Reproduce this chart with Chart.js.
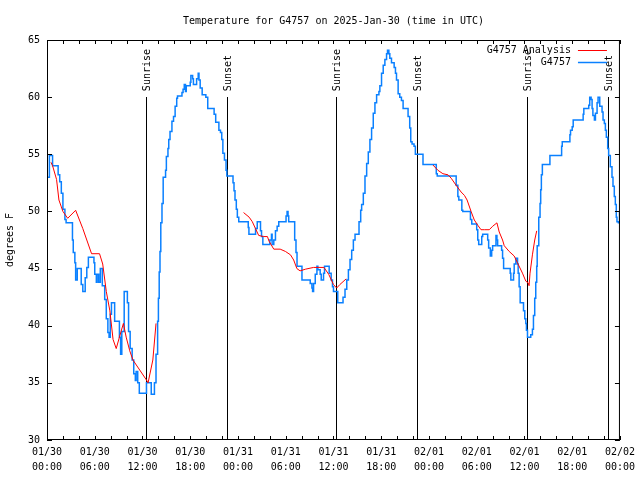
<!DOCTYPE html>
<html>
<head>
<meta charset="utf-8">
<title>Temperature for G4757</title>
<script src="https://cdn.jsdelivr.net/npm/chart.js@4.4.1/dist/chart.umd.min.js"></script>
<style>
  html, body { margin: 0; padding: 0; background: #fff; }
  canvas { display: block; }
</style>
</head>
<body>
<canvas id="tempChart" width="640" height="480"></canvas>
<script>
// data – x is hours since 01/30 00:00 UTC
const chartTitle = 'Temperature for G4757 on 2025-Jan-30 (time in UTC)';
const yAxisTitle = 'degrees F';
const seriesNames = ['G4757 Analysis', 'G4757'];

const stationHours = [
  0.0, 0.3, 0.7, 1.4, 1.6, 1.8, 2.0, 2.25, 2.4, 3.2, 3.3, 3.5, 3.6, 3.8, 4.3, 4.5, 4.8, 5.0, 5.2, 5.9,
  6.0, 6.2, 6.3, 6.5, 6.7, 6.95, 7.25, 7.45, 7.65, 7.8, 7.95, 8.1, 8.5, 9.1, 9.25, 9.4, 9.7, 10.1, 10.25, 10.45,
  10.7, 10.9, 11.1, 11.2, 11.4, 11.6, 12.5, 13.1, 13.5, 13.7, 13.9, 14.0, 14.1, 14.2, 14.3, 14.45, 14.6, 14.9, 15.0, 15.2,
  15.3, 15.46, 15.7, 15.9, 16.1, 16.3, 16.4, 16.96, 17.1, 17.25, 17.4, 17.5, 18.0, 18.08, 18.3, 18.4, 18.8, 19.0, 19.1, 19.25,
  19.5, 19.96, 20.2, 21.0, 21.2, 21.6, 21.8, 21.96, 22.1, 22.3, 22.5, 22.6, 23.375, 23.5, 23.625, 23.79, 23.92, 24.1, 25.29, 25.375,
  26.21, 26.42, 26.83, 26.96, 27.125, 28.0, 28.21, 28.29, 28.5, 28.71, 28.92, 29.125, 30.04, 30.17, 30.29, 30.375, 31.125, 31.29, 31.42, 32.04,
  33.08, 33.29, 33.375, 33.5, 33.71, 33.92, 34.04, 34.33, 34.46, 34.75, 34.875, 35.46, 35.71, 35.875, 36.0, 36.54, 37.2, 37.45, 37.67, 37.875,
  38.08, 38.29, 38.5, 38.71, 39.21, 39.42, 39.54, 39.75, 39.96, 40.17, 40.375, 40.58, 40.79, 41.0, 41.21, 41.42, 41.71, 41.83, 42.04, 42.25,
  42.46, 42.67, 42.79, 42.96, 43.08, 43.29, 43.625, 43.79, 43.92, 44.125, 44.33, 44.54, 44.75, 45.375, 45.58, 45.71, 45.875, 46.125, 46.29, 47.25,
  48.92, 49.04, 51.42, 51.63, 51.75, 52.13, 52.25, 53.21, 53.38, 54.0, 54.13, 54.25, 54.63, 54.75, 55.38, 55.5, 55.71, 55.88, 56.0, 56.42,
  56.54, 56.63, 57.13, 57.25, 57.38, 58.21, 58.29, 58.63, 58.71, 58.92, 59.13, 59.21, 59.33, 59.46, 59.88, 60.04, 60.17, 60.25, 60.38, 60.79,
  61.0, 61.13, 61.29, 61.42, 61.54, 61.6, 61.8, 61.96, 62.04, 62.125, 62.25, 63.2, 64.67, 64.75, 65.71, 65.79, 66.0, 66.125, 67.375, 67.46,
  68.08, 68.2, 68.375, 68.5, 68.6, 68.79, 68.92, 69.125, 69.25, 69.46, 69.75, 69.875, 70.04, 70.17, 70.29, 70.46, 70.58, 70.79, 71.0, 71.125,
  71.29, 71.42, 71.54, 71.625, 71.8, 71.95
];
const stationTemps = [
  53.0, 54.9, 54.0, 53.2, 52.6, 51.6, 50.2, 49.3, 49.0, 47.5, 46.4, 45.5, 44.0, 45.0, 43.6, 43.0, 44.2, 45.1, 46.0, 45.5,
  44.5, 43.8, 44.5, 43.8, 45.0, 43.5, 42.3, 40.6, 39.4, 39.0, 41.0, 42.0, 40.4, 39.0, 37.5, 39.5, 43.0, 42.0, 39.5, 38.0,
  37.0, 35.8, 35.2, 36.0, 35.0, 34.1, 35.0, 34.0, 35.0, 37.5, 40.4, 42.4, 44.7, 46.5, 49.0, 50.7, 53.0, 53.6, 54.8, 55.5,
  56.3, 57.0, 57.9, 58.3, 59.2, 59.9, 60.1, 60.4, 60.7, 61.1, 60.5, 61.0, 61.3, 61.9, 61.6, 61.1, 61.6, 62.1, 61.5, 60.8,
  60.2, 60.0, 59.0, 58.5, 57.8, 57.1, 56.9, 56.3, 55.1, 54.5, 53.6, 53.1, 52.5, 51.8, 51.0, 50.2, 49.5, 49.1, 48.6, 48.0,
  48.5, 49.1, 48.3, 47.8, 47.1, 47.5, 48.0, 47.1, 47.5, 48.3, 48.7, 49.1, 49.6, 50.0, 49.6, 49.1, 47.5, 46.4, 45.2, 44.0,
  43.7, 43.3, 43.0, 43.7, 44.5, 45.2, 44.9, 44.5, 44.0, 44.6, 45.2, 44.6, 44.0, 43.4, 43.0, 42.0, 42.5, 43.2, 44.0, 44.9,
  45.8, 46.6, 47.5, 48.0, 49.1, 50.1, 50.6, 51.6, 53.1, 54.2, 55.2, 56.3, 57.3, 58.6, 59.5, 60.2, 60.5, 61.0, 62.1, 62.8,
  63.3, 63.8, 64.1, 63.8, 63.4, 63.0, 62.6, 62.1, 61.5, 60.3, 60.0, 59.7, 59.0, 58.3, 57.3, 56.1, 55.9, 55.7, 55.0, 54.1,
  53.3, 53.1, 52.3, 51.3, 51.0, 50.1, 50.0, 49.3, 48.9, 48.4, 47.5, 47.1, 47.8, 48.0, 47.5, 46.8, 46.1, 46.6, 47.0, 47.9,
  47.5, 47.0, 46.6, 45.9, 45.0, 44.6, 44.0, 44.6, 45.4, 45.9, 45.4, 44.6, 43.4, 42.0, 41.3, 40.6, 40.2, 39.6, 39.0, 39.2,
  39.7, 40.9, 42.4, 43.8, 45.2, 47.0, 49.5, 50.7, 51.9, 53.2, 54.1, 54.9, 55.7, 56.1, 56.7, 57.1, 57.4, 58.0, 58.5, 59.0,
  59.3, 60.0, 59.8, 59.0, 58.4, 58.0, 58.6, 59.5, 60.0, 59.2, 58.7, 58.0, 57.7, 57.1, 56.5, 55.5, 54.9, 53.9, 53.0, 52.2,
  51.3, 50.6, 49.5, 49.1, 49.0, 50.0
];

// analysis curve, null marks a gap in the line
const analysisHours = [
  0.5, 0.7, 1.2, 1.5, 1.8, 2.0, 2.6, 3.6, 4.5, 5.6, 6.6, 7.0, 7.45, 7.9, 8.3, 8.7, 9.1, 9.6, 9.95, 10.4,
  10.8, 12.5, 12.7, 13.3, 13.7,
  19.0,
  24.7, 25.4, 25.8, 26.2, 26.6, 27.2, 27.7, 27.9, 28.5, 29.3, 29.96, 30.6, 31.0, 31.4, 31.8, 32.5, 33.5, 34.8, 35.4, 36.0,
  36.4, 36.8, 37.6,
  43.0,
  48.5, 49.125, 49.75, 50.4, 50.8, 51.4, 52.04, 52.46, 52.79, 53.29, 53.7, 54.125, 54.54, 54.96, 55.58, 56.0, 56.54, 56.83, 57.25, 57.46,
  58.08, 58.71, 59.125, 59.75, 60.17, 60.46, 60.58, 60.7, 61.0, 61.29, 61.54
];
const analysisTemps = [
  54.3, 54.0, 52.8, 51.0, 50.4, 50.0, 49.4, 50.1, 48.5, 46.3, 46.3, 45.4, 43.0, 41.3, 38.8, 38.0, 39.0, 40.2, 39.0, 37.8,
  37.0, 35.25, 35.0, 37.0, 40.2,
  null,
  49.9, 49.5, 49.1, 48.5, 47.9, 47.8, 47.8, 47.4, 46.7, 46.7, 46.5, 46.2, 45.75, 45.0, 44.8, 44.95, 45.1, 45.1, 44.5, 43.6,
  43.3, 43.6, 44.1,
  null,
  54.06, 53.6, 53.3, 53.2, 52.9, 52.3, 51.7, 51.4, 51.0, 50.0, 49.25, 48.8, 48.4, 48.4, 48.4, 48.7, 49.0, 48.2, 47.5, 47.0,
  46.5, 46.1, 45.5, 44.6, 43.9, 43.75, 43.5, 44.6, 46.2, 47.5, 48.3
];

const sunHours = [12.42, 22.67, 36.3, 46.54, 60.29, 70.5];
const sunNames = ['Sunrise', 'Sunset', 'Sunrise', 'Sunset', 'Sunrise', 'Sunset'];
const sunLineTop = 60;

const xTickLabels = [
  ['01/30', '00:00'], ['01/30', '06:00'], ['01/30', '12:00'], ['01/30', '18:00'],
  ['01/31', '00:00'], ['01/31', '06:00'], ['01/31', '12:00'], ['01/31', '18:00'],
  ['02/01', '00:00'], ['02/01', '06:00'], ['02/01', '12:00'], ['02/01', '18:00'],
  ['02/02', '00:00']
];

const MONO = '"DejaVu Sans Mono", "Liberation Mono", monospace';
const RED = '#ff0000';
const BLUE = '#0a80ff';

const toPoints = (xs, ys) => xs.map((x, i) => ({ x: x, y: ys[i] }));

// gnuplot-ish decorations: frame, inward ticks, title, legend, sun markers
const gnuplotDecor = {
  id: 'gnuplotDecor',
  beforeDraw(chart) {
    const ctx = chart.ctx;
    ctx.save();
    ctx.fillStyle = '#fff';
    ctx.fillRect(0, 0, chart.width, chart.height);
    ctx.restore();
  },
  beforeDatasetsDraw(chart) {
    // sunrise / sunset vertical lines sit under the data
    const { ctx, scales } = chart;
    const x = scales.x, y = scales.y;
    ctx.save();
    ctx.strokeStyle = '#000';
    ctx.lineWidth = 1;
    ctx.beginPath();
    sunHours.forEach(h => {
      const px = Math.round(x.getPixelForValue(h)) + 0.5;
      ctx.moveTo(px, Math.round(y.getPixelForValue(sunLineTop)));
      ctx.lineTo(px, y.getPixelForValue(30));
    });
    ctx.stroke();
    ctx.restore();
  },
  afterDraw(chart) {
    const { ctx, chartArea: a, scales } = chart;
    const x = scales.x, y = scales.y;
    ctx.save();
    ctx.strokeStyle = '#000';
    ctx.lineWidth = 1;
    ctx.strokeRect(a.left + 0.5, a.top + 0.5, a.right - a.left - 1, a.bottom - a.top - 1);

    ctx.beginPath();
    for (let h = 0; h <= 72; h += 2) {
      const px = Math.round(x.getPixelForValue(h)) + 0.5;
      ctx.moveTo(px, a.bottom); ctx.lineTo(px, a.bottom - 4);
      ctx.moveTo(px, a.top); ctx.lineTo(px, a.top + 4);
    }
    for (let v = 30; v <= 65; v += 5) {
      const py = Math.round(y.getPixelForValue(v)) + 0.5;
      ctx.moveTo(a.left, py); ctx.lineTo(a.left + 5, py);
      ctx.moveTo(a.right, py); ctx.lineTo(a.right - 5, py);
    }
    ctx.stroke();

    ctx.fillStyle = '#000';
    ctx.font = '10px ' + MONO;
    ctx.textBaseline = 'middle';

    // title
    ctx.textAlign = 'center';
    ctx.fillText(chartTitle, (a.left + a.right) / 2, 21);

    // y axis title
    ctx.save();
    ctx.translate(10, (a.top + a.bottom) / 2);
    ctx.rotate(-Math.PI / 2);
    ctx.fillText(yAxisTitle, 0, 0);
    ctx.restore();

    // sunrise / sunset labels
    const labelY = y.getPixelForValue(sunLineTop) - 6;
    sunHours.forEach((h, i) => {
      ctx.save();
      ctx.translate(Math.round(x.getPixelForValue(h)) + 1, labelY);
      ctx.rotate(-Math.PI / 2);
      ctx.textAlign = 'left';
      ctx.fillText(sunNames[i], 0, 0);
      ctx.restore();
    });

    // legend, top right inside the plot
    const colors = [RED, BLUE];
    seriesNames.forEach((name, i) => {
      const ly = 50 + i * 12;
      ctx.textAlign = 'right';
      ctx.fillStyle = '#000';
      ctx.fillText(name, a.right - 49, ly);
      ctx.strokeStyle = colors[i];
      ctx.lineWidth = i === 0 ? 1 : 1.5;
      ctx.beginPath();
      ctx.moveTo(a.right - 42, ly + 0.5);
      ctx.lineTo(a.right - 13, ly + 0.5);
      ctx.stroke();
    });
    ctx.restore();
  }
};

const ctxTemp = document.getElementById('tempChart');
new Chart(ctxTemp, {
  type: 'line',
  data: {
    datasets: [
      {
        label: seriesNames[0],
        data: toPoints(analysisHours, analysisTemps),
        borderColor: RED,
        borderWidth: 1,
        pointRadius: 0,
        spanGaps: false,
        order: 0
      },
      {
        label: seriesNames[1],
        data: toPoints(stationHours, stationTemps),
        borderColor: BLUE,
        borderWidth: 1.5,
        pointRadius: 0,
        stepped: true,
        order: 1
      }
    ]
  },
  options: {
    responsive: false,
    devicePixelRatio: 1,
    animation: false,
    layout: { padding: { top: 40, right: 17, left: 0, bottom: 0 } },
    plugins: {
      legend: { display: false },
      tooltip: { enabled: false }
    },
    scales: {
      x: {
        type: 'linear',
        min: 0,
        max: 72,
        grid: { display: false, drawTicks: false },
        border: { display: false },
        afterFit: scale => { scale.height = 40; },
        ticks: {
          stepSize: 6,
          autoSkip: false,
          maxRotation: 0,
          padding: 5,
          color: '#000',
          font: { family: MONO, size: 10, lineHeight: 1.5 },
          callback: value => xTickLabels[Math.round(value / 6)]
        }
      },
      y: {
        min: 30,
        max: 65,
        grid: { display: false, drawTicks: false },
        border: { display: false },
        afterFit: scale => { scale.width = 47; },
        ticks: {
          stepSize: 5,
          padding: 7,
          color: '#000',
          font: { family: MONO, size: 10 }
        }
      }
    }
  },
  plugins: [gnuplotDecor]
});
</script>
</body>
</html>
